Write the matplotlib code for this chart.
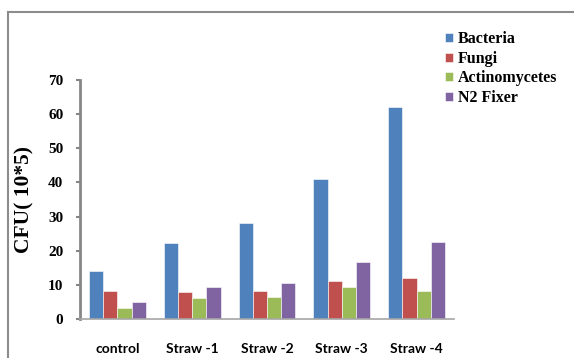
import matplotlib
matplotlib.use("Agg")
import matplotlib.pyplot as plt
import numpy as np
from matplotlib.lines import Line2D

categories = ["control", "Straw -1", "Straw -2", "Straw -3", "Straw -4"]
series_names = ["Bacteria", "Fungi", "Actinomycetes", "N2 Fixer"]
bacteria = [14.2, 22.2, 28.0, 41.0, 62.0]
fungi = [8.2, 7.9, 8.2, 11.1, 12.0]
actinomycetes = [3.2, 6.1, 6.4, 9.4, 8.2]
n2_fixer = [5.0, 9.4, 10.5, 16.7, 22.5]
y_ticks = [0, 10, 20, 30, 40, 50, 60, 70]

colors = ["#4F81BD", "#C0504D", "#9BBB59", "#8064A2"]
values = [bacteria, fungi, actinomycetes, n2_fixer]

fig = plt.figure(figsize=(5.74, 3.58), dpi=100)
ax = fig.add_axes([80 / 574, 1 - 319 / 358, 374 / 574, 239 / 358])

x = np.arange(len(categories))
bw = 0.19
for i, (vals, c, name) in enumerate(zip(values, colors, series_names)):
    ax.bar(x + (i - 1.5) * bw, vals, width=bw, color=c, label=name,
           edgecolor="white", linewidth=0.4)

ax.set_xlim(-0.5, len(categories) - 0.5)
ax.set_ylim(0, 70)
ax.set_yticks(y_ticks)
ax.set_yticklabels([str(t) for t in y_ticks], fontfamily="Liberation Serif",
                   fontweight="bold", fontsize=11)
ax.set_xticks(x)
ax.set_xticklabels(categories, fontfamily="Lato", fontweight="bold", fontsize=10)
ax.tick_params(axis="x", length=0, pad=17)
ax.tick_params(axis="y", length=3, width=1.5, color="#868686", pad=9, direction="out")

for s in ["top", "right"]:
    ax.spines[s].set_visible(False)
ax.spines["left"].set_color("#868686")
ax.spines["left"].set_linewidth(2)
ax.spines["bottom"].set_color("#A6A6A6")
ax.spines["bottom"].set_linewidth(1.2)

ax.set_ylabel("CFU( 10*5)", fontfamily="Liberation Serif", fontweight="bold",
              fontsize=15.5, labelpad=10)

leg = fig.legend(loc="upper left", bbox_to_anchor=(431 / 574, 1 - 17 / 358),
                 frameon=False, prop={"family": "Liberation Serif", "weight": "bold", "size": 11.5},
                 handlelength=0.45, handleheight=0.5, handletextpad=0.35, labelspacing=0.22)

# outer frame
fig.add_artist(Line2D([8 / 574, 1], [1 - 12 / 358, 1 - 12 / 358], transform=fig.transFigure,
                      color="#8C8C8C", linewidth=1.5))
fig.add_artist(Line2D([8 / 574, 8 / 574], [0, 1 - 12 / 358], transform=fig.transFigure,
                      color="#8C8C8C", linewidth=1.5))

fig.savefig("out.png", dpi=100)
